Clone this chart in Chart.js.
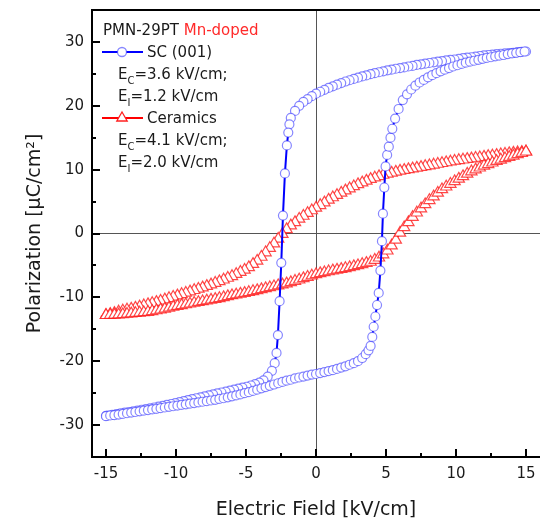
<!DOCTYPE html>
<html>
<head>
<meta charset="utf-8">
<script src="https://cdn.jsdelivr.net/npm/chart.js@4.4.0/dist/chart.umd.min.js"></script>
<style>
  html, body { margin: 0; padding: 0; background: #fff; overflow: hidden; }
  canvas { display: block; }
</style>
</head>
<body>
<canvas id="loopChart" width="540" height="521"></canvas>
<script>
// P-E hysteresis loops of Mn-doped PMN-29PT: (001) single crystal vs ceramics

// single crystal, field swept down from +15 to -15 kV/cm
const scDownField = [
  15.0, 14.7, 14.4, 14.1, 13.8, 13.5, 13.2, 12.9, 12.6, 12.3,
  12.0, 11.7, 11.4, 11.1, 10.8, 10.5, 10.2, 9.9, 9.6, 9.3,
  9.0, 8.7, 8.4, 8.1, 7.8, 7.5, 7.2, 6.9, 6.6, 6.3,
  6.0, 5.7, 5.4, 5.1, 4.8, 4.5, 4.2, 3.9, 3.6, 3.3,
  3.0, 2.7, 2.4, 2.1, 1.8, 1.5, 1.2, 0.9, 0.6, 0.3,
  0.0, -0.3, -0.6, -0.9, -1.2, -1.5, -1.8,
  -1.9, -1.98, -2.08, -2.22, -2.36, -2.48, -2.6, -2.72, -2.82, -2.95,
  -3.15, -3.45, -3.75, -4.05,
  -4.35, -4.65, -4.95, -5.25, -5.55, -5.85, -6.15, -6.45, -6.75, -7.05,
  -7.35, -7.65, -7.95, -8.25, -8.55, -8.85, -9.15, -9.45, -9.75, -10.05,
  -10.35, -10.65, -10.95, -11.25, -11.55, -11.85, -12.15, -12.45, -12.75, -13.05,
  -13.35, -13.65, -13.95, -14.25, -14.55, -14.85, -15.0
];
const scDownPol = [
  28.5, 28.45, 28.4, 28.3, 28.25, 28.2, 28.15, 28.1, 28.0, 27.95,
  27.9, 27.8, 27.7, 27.6, 27.55, 27.45, 27.35, 27.25, 27.2, 27.1,
  27.0, 26.9, 26.8, 26.7, 26.6, 26.5, 26.4, 26.25, 26.15, 26.0,
  25.9, 25.8, 25.65, 25.55, 25.4, 25.25, 25.1, 24.95, 24.75, 24.6,
  24.4, 24.2, 24.0, 23.8, 23.55, 23.3, 23.05, 22.8, 22.5, 22.2,
  21.9, 21.5, 21.05, 20.6, 20.0, 19.2, 18.1,
  17.1, 15.8, 13.8, 9.4, 2.8, -4.6, -10.6, -15.9, -18.7, -20.3,
  -21.5, -22.4, -23.0, -23.35,
  -23.6, -23.8, -24.0, -24.15, -24.3, -24.45, -24.6, -24.75, -24.9, -25.05,
  -25.2, -25.35, -25.5, -25.65, -25.8, -25.95, -26.1, -26.25, -26.4, -26.55,
  -26.7, -26.85, -27.0, -27.1, -27.25, -27.4, -27.5, -27.6, -27.75, -27.85,
  -27.95, -28.05, -28.15, -28.3, -28.4, -28.5, -28.55
];

// single crystal, field swept back up from -15 to +15 kV/cm
const scUpField = [
  -15.0, -14.7, -14.4, -14.1, -13.8, -13.5, -13.2, -12.9, -12.6, -12.3,
  -12.0, -11.7, -11.4, -11.1, -10.8, -10.5, -10.2, -9.9, -9.6, -9.3,
  -9.0, -8.7, -8.4, -8.1, -7.8, -7.5, -7.2, -6.9, -6.6, -6.3,
  -6.0, -5.7, -5.4, -5.1, -4.8, -4.5, -4.2, -3.9, -3.6, -3.3,
  -3.0, -2.7, -2.4, -2.1, -1.8, -1.5, -1.2, -0.9, -0.6, -0.3,
  0.0, 0.3, 0.6, 0.9, 1.2, 1.5, 1.8, 2.1, 2.4, 2.7,
  3.0, 3.3, 3.55, 3.75, 3.9, 4.02, 4.12, 4.24, 4.36, 4.48,
  4.6, 4.71, 4.78, 4.88, 4.97, 5.08, 5.2, 5.32, 5.45, 5.65,
  5.9, 6.2, 6.5, 6.8, 7.1, 7.4, 7.7, 8.0, 8.3, 8.6,
  8.9, 9.2, 9.5, 9.8, 10.1, 10.4, 10.7, 11.0, 11.3, 11.6,
  11.9, 12.2, 12.5, 12.8, 13.1, 13.4, 13.7, 14.0, 14.3, 14.6, 14.9
];
const scUpPol = [
  -28.6, -28.5, -28.45, -28.35, -28.25, -28.15, -28.05, -27.95, -27.85, -27.75,
  -27.65, -27.55, -27.45, -27.35, -27.25, -27.15, -27.05, -26.95, -26.85, -26.75,
  -26.65, -26.55, -26.45, -26.35, -26.25, -26.15, -26.05, -25.9, -25.8, -25.65,
  -25.5, -25.35, -25.2, -25.0, -24.85, -24.65, -24.45, -24.25, -24.05, -23.85,
  -23.65, -23.45, -23.25, -23.05, -22.9, -22.7, -22.55, -22.4, -22.25, -22.1,
  -22.0, -21.85, -21.7, -21.55, -21.4, -21.2, -21.0, -20.8, -20.55, -20.3,
  -20.0, -19.5, -18.9, -18.3, -17.6, -16.2, -14.6, -13.0, -11.2, -9.3,
  -5.8, -1.2, 3.1, 7.2, 10.5, 12.3, 13.6, 15.0, 16.4, 18.0,
  19.5, 20.9, 21.8, 22.55, 23.15, 23.65, 24.05, 24.45, 24.8, 25.1,
  25.4, 25.65, 25.9, 26.15, 26.35, 26.55, 26.75, 26.9, 27.05, 27.2,
  27.35, 27.5, 27.6, 27.75, 27.85, 27.95, 28.1, 28.2, 28.3, 28.4, 28.5
];

// ceramics: both branches read on the same field grid
const cerField = [
  -15.0, -14.7, -14.4, -14.1, -13.8, -13.5, -13.2, -12.9, -12.6, -12.3,
  -12.0, -11.7, -11.4, -11.1, -10.8, -10.5, -10.2, -9.9, -9.6, -9.3,
  -9.0, -8.7, -8.4, -8.1, -7.8, -7.5, -7.2, -6.9, -6.6, -6.3,
  -6.0, -5.7, -5.4, -5.1, -4.8, -4.5, -4.2, -3.9, -3.6, -3.3,
  -3.0, -2.7, -2.4, -2.1, -1.8, -1.5, -1.2, -0.9, -0.6, -0.3,
  0.0, 0.3, 0.6, 0.9, 1.2, 1.5, 1.8, 2.1, 2.4, 2.7,
  3.0, 3.3, 3.6, 3.9, 4.2, 4.5, 4.8, 5.1, 5.4, 5.7,
  6.0, 6.3, 6.6, 6.9, 7.2, 7.5, 7.8, 8.1, 8.4, 8.7,
  9.0, 9.3, 9.6, 9.9, 10.2, 10.5, 10.8, 11.1, 11.4, 11.7,
  12.0, 12.3, 12.6, 12.9, 13.2, 13.5, 13.8, 14.1, 14.4, 14.7,
  15.0
];
// descending branch (swept from +15 down)
const cerUpperPol = [
  -12.8, -12.62, -12.47, -12.25, -12.1, -11.95, -11.8, -11.64, -11.46, -11.28,
  -11.1, -10.92, -10.74, -10.56, -10.36, -10.15, -9.94, -9.73, -9.52, -9.31,
  -9.1, -8.89, -8.68, -8.47, -8.24, -8.0, -7.76, -7.51, -7.24, -6.97,
  -6.7, -6.37, -6.04, -5.71, -5.3, -4.8, -4.3, -3.68, -2.98, -2.3,
  -1.6, -0.85, -0.1, 0.65, 1.24, 1.75, 2.28, 2.74, 3.18, 3.6,
  4.0, 4.42, 4.84, 5.26, 5.64, 6.0, 6.36, 6.71, 7.04, 7.37,
  7.7, 7.97, 8.24, 8.51, 8.74, 8.95, 9.16, 9.35, 9.5, 9.65,
  9.8, 9.92, 10.04, 10.16, 10.28, 10.4, 10.52, 10.64, 10.76, 10.88,
  11.0, 11.12, 11.24, 11.36, 11.46, 11.55, 11.64, 11.73, 11.82, 11.91,
  12.0, 12.09, 12.18, 12.27, 12.36, 12.45, 12.54, 12.62, 12.68, 12.74,
  12.8
];
// ascending branch (swept from -15 up)
const cerLowerPol = [
  -12.8, -12.77, -12.74, -12.71, -12.66, -12.6, -12.54, -12.48, -12.42, -12.36,
  -12.3, -12.18, -12.06, -11.94, -11.8, -11.65, -11.5, -11.36, -11.24, -11.12,
  -11.0, -10.88, -10.76, -10.64, -10.52, -10.4, -10.28, -10.15, -10.0, -9.85,
  -9.7, -9.58, -9.46, -9.34, -9.2, -9.05, -8.9, -8.75, -8.6, -8.45,
  -8.3, -8.15, -8.0, -7.85, -7.66, -7.45, -7.24, -7.03, -6.82, -6.61,
  -6.4, -6.25, -6.1, -5.95, -5.82, -5.7, -5.58, -5.45, -5.3, -5.15,
  -5.0, -4.82, -4.64, -4.46, -4.16, -3.8, -3.3, -2.7, -1.9, -1.0,
  0.1, 0.95, 1.75, 2.55, 3.25, 3.9, 4.55, 5.2, 5.78, 6.35,
  6.9, 7.32, 7.74, 8.16, 8.56, 8.95, 9.34, 9.7, 10.0, 10.3,
  10.6, 10.84, 11.08, 11.32, 11.54, 11.75, 11.96, 12.17, 12.38, 12.59,
  12.8
];

const fieldTicks = [-15, -10, -5, 0, 5, 10, 15];
const polTicks = [-30, -20, -10, 0, 10, 20, 30];

const FONT = '"DejaVu Sans", Verdana, sans-serif';
const BLUE_MARK = 'rgba(60, 60, 255, 0.62)';
const RED_MARK = 'rgba(255, 25, 25, 0.8)';

const pairs = (xs, ys) => xs.map((x, i) => ({ x: x, y: ys[i] }));

// close each loop: down branch first, then back up
const scLoop = pairs(scDownField, scDownPol).concat(pairs(scUpField, scUpPol));
const cerLoop = pairs(cerField, cerUpperPol).reverse().concat(pairs(cerField, cerLowerPol));

// subscripted label like E_C=3.6 kV/cm
function drawSubLabel(ctx, x, y, main, sub, rest) {
  ctx.font = '15px ' + FONT;
  ctx.fillText(main, x, y);
  x += ctx.measureText(main).width;
  ctx.font = '10px ' + FONT;
  ctx.fillText(sub, x, y + 5);
  x += ctx.measureText(sub).width;
  ctx.font = '15px ' + FONT;
  ctx.fillText(rest, x, y);
}

const framePlugin = {
  id: 'frameAndLegend',
  afterDraw(chart) {
    const { ctx, chartArea: a, scales } = chart;
    const xs = scales.x, ys = scales.y;
    ctx.save();

    // top edge of the frame (right edge sits just past the canvas)
    ctx.strokeStyle = '#000';
    ctx.lineWidth = 2;
    ctx.beginPath();
    ctx.moveTo(a.left - 1, a.top);
    ctx.lineTo(a.right + 2, a.top);
    ctx.stroke();

    // inward ticks, minor ones halfway between the labelled ones
    ctx.beginPath();
    fieldTicks.forEach((v, i) => {
      const px = Math.round(xs.getPixelForValue(v));
      ctx.moveTo(px, a.bottom);
      ctx.lineTo(px, a.bottom - 8);
      if (i < fieldTicks.length - 1) {
        const m = Math.round(xs.getPixelForValue((v + fieldTicks[i + 1]) / 2));
        ctx.moveTo(m, a.bottom);
        ctx.lineTo(m, a.bottom - 4);
      }
    });
    polTicks.forEach((v, i) => {
      const py = Math.round(ys.getPixelForValue(v));
      ctx.moveTo(a.left, py);
      ctx.lineTo(a.left + 8, py);
      if (i < polTicks.length - 1) {
        const m = Math.round(ys.getPixelForValue((v + polTicks[i + 1]) / 2));
        ctx.moveTo(a.left, m);
        ctx.lineTo(a.left + 4, m);
      }
    });
    ctx.stroke();

    // legend
    ctx.textBaseline = 'alphabetic';
    ctx.textAlign = 'left';
    ctx.font = '15px ' + FONT;
    ctx.fillStyle = '#1a1a1a';
    ctx.fillText('PMN-29PT ', 103, 35);
    const w = ctx.measureText('PMN-29PT ').width;
    ctx.fillStyle = '#ff2a2a';
    ctx.fillText('Mn-doped', 103 + w, 35);

    // single crystal sample
    ctx.strokeStyle = '#0000ff';
    ctx.lineWidth = 2;
    ctx.beginPath();
    ctx.moveTo(102, 52);
    ctx.lineTo(143, 52);
    ctx.stroke();
    ctx.fillStyle = '#fff';
    ctx.strokeStyle = BLUE_MARK;
    ctx.lineWidth = 1.3;
    ctx.beginPath();
    ctx.arc(122, 52, 4.5, 0, Math.PI * 2);
    ctx.fill();
    ctx.stroke();

    // ceramics sample
    ctx.strokeStyle = '#ff0000';
    ctx.lineWidth = 2;
    ctx.beginPath();
    ctx.moveTo(102, 118);
    ctx.lineTo(143, 118);
    ctx.stroke();
    ctx.fillStyle = '#fff';
    ctx.strokeStyle = '#ff2020';
    ctx.lineWidth = 1.3;
    ctx.beginPath();
    ctx.moveTo(122, 112);
    ctx.lineTo(127.2, 121);
    ctx.lineTo(116.8, 121);
    ctx.closePath();
    ctx.fill();
    ctx.stroke();

    ctx.fillStyle = '#1a1a1a';
    ctx.font = '15px ' + FONT;
    ctx.fillText('SC (001)', 147, 57);
    drawSubLabel(ctx, 118, 79, 'E', 'C', '=3.6 kV/cm;');
    drawSubLabel(ctx, 118, 101, 'E', 'I', '=1.2 kV/cm');
    ctx.font = '15px ' + FONT;
    ctx.fillText('Ceramics', 147, 123);
    drawSubLabel(ctx, 118, 145, 'E', 'C', '=4.1 kV/cm;');
    drawSubLabel(ctx, 118, 167, 'E', 'I', '=2.0 kV/cm');

    ctx.restore();
  }
};

const zeroGrid = ctx => (ctx.tick && ctx.tick.value === 0 ? '#555' : 'rgba(0,0,0,0)');

new Chart(document.getElementById('loopChart'), {
  type: 'scatter',
  data: {
    datasets: [
      {
        label: 'SC (001)',
        data: scLoop,
        showLine: true,
        borderColor: '#0000ff',
        borderWidth: 2,
        pointStyle: 'circle',
        pointRadius: 4.5,
        pointBorderWidth: 1.2,
        pointBorderColor: BLUE_MARK,
        pointBackgroundColor: '#fff'
      },
      {
        label: 'Ceramics',
        data: cerLoop,
        showLine: true,
        borderColor: '#ff0000',
        borderWidth: 1.5,
        pointStyle: 'triangle',
        pointRadius: 6.5,
        pointBorderWidth: 1.2,
        pointBorderColor: RED_MARK,
        pointBackgroundColor: '#fff'
      }
    ]
  },
  options: {
    responsive: false,
    animation: false,
    events: [],
    layout: { autoPadding: false, padding: { top: 10, right: 0, left: 0, bottom: 0 } },
    plugins: {
      legend: { display: false },
      tooltip: { enabled: false }
    },
    scales: {
      x: {
        type: 'linear',
        min: -16,
        max: 16,
        afterBuildTicks: scale => { scale.ticks = fieldTicks.map(v => ({ value: v })); },
        afterFit: scale => {
          scale.height = 64;
          scale.paddingLeft = 0;
          scale.paddingRight = 0;
        },
        ticks: { color: '#1a1a1a', font: { family: FONT, size: 15 }, padding: 8, maxRotation: 0 },
        grid: { color: zeroGrid, lineWidth: 1, drawTicks: false },
        border: { display: true, color: '#000', width: 2 },
        title: {
          display: true,
          text: 'Electric Field [kV/cm]',
          color: '#1a1a1a',
          font: { family: FONT, size: 19 },
          padding: { top: 0, bottom: 0 }
        }
      },
      y: {
        type: 'linear',
        min: -35,
        max: 35,
        afterBuildTicks: scale => { scale.ticks = polTicks.map(v => ({ value: v })); },
        afterFit: scale => {
          scale.width = 92;
          scale.paddingTop = 0;
          scale.paddingBottom = 0;
        },
        ticks: { color: '#1a1a1a', font: { family: FONT, size: 15 }, padding: 8 },
        grid: { color: zeroGrid, lineWidth: 1, drawTicks: false },
        border: { display: true, color: '#000', width: 2 },
        title: {
          display: true,
          text: 'Polarization [μC/cm²]',
          color: '#1a1a1a',
          font: { family: FONT, size: 19 },
          padding: { top: 24, bottom: 0 }
        }
      }
    }
  },
  plugins: [framePlugin]
});
</script>
</body>
</html>
